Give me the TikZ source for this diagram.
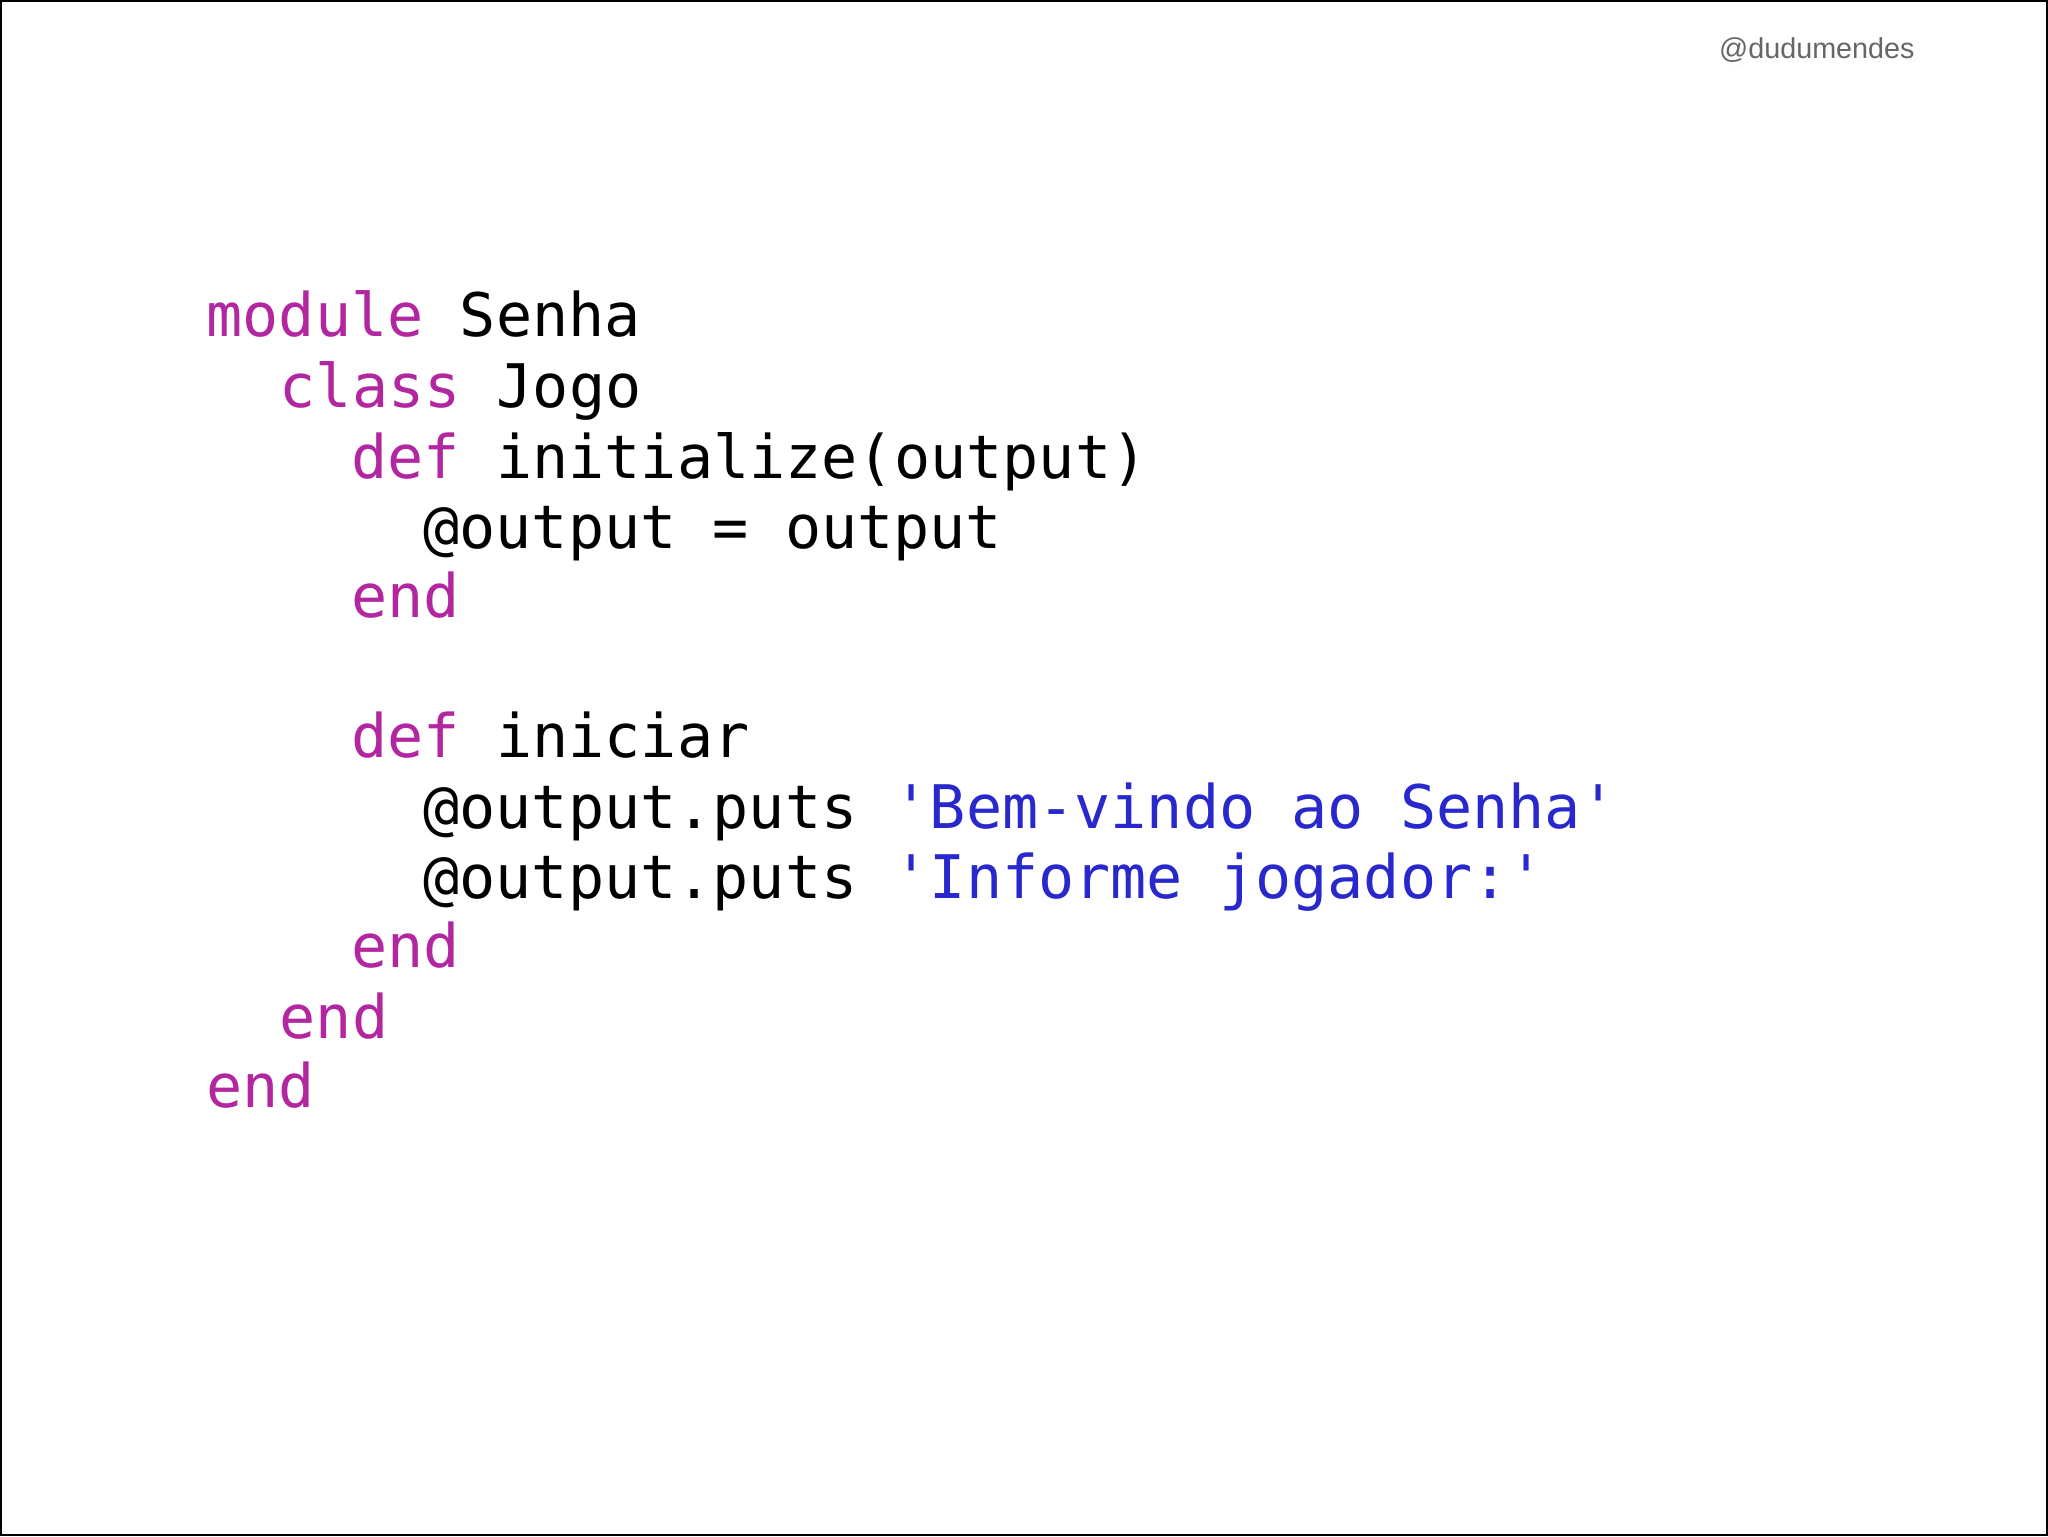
\documentclass[tikz,border=0pt]{standalone}
\usepackage{fontspec}
\setmonofont{DejaVu Sans Mono}
\setsansfont{Liberation Sans}
\definecolor{kw}{RGB}{178,38,160}
\definecolor{st}{RGB}{40,40,205}
\newcommand{\K}[1]{\textcolor{kw}{#1}}
\newcommand{\Sx}[1]{\textcolor{st}{#1}}
\tikzset{code/.style={anchor=base west,inner sep=0pt,font=\ttfamily\fontsize{46}{46}\selectfont}}
\begin{document}
\begin{tikzpicture}[x=1pt,y=-1pt]
\useasboundingbox (0,0) rectangle (1568,1176);
\draw[line width=1.5pt] (0.75,0.75) rectangle (1567.25,1175.25);
\node[anchor=base east,inner sep=0pt,font=\sffamily\fontsize{22}{22}\selectfont,text=black!3,opacity=0.5] (shadow) at (1469,48) {@dudumendes};
\node[anchor=base east,inner sep=0pt,font=\sffamily\fontsize{22}{22}\selectfont,text=black!60] (handle) at (1466,45) {@dudumendes};
\node[code] (l1) at (158,258) {\K{module} Senha};
\node[code] (l2) at (214,312) {\K{class} Jogo};
\node[code] (l3) at (269,366) {\K{def} initialize(output)};
\node[code] (l4) at (324,420) {@output = output};
\node[code] (l5) at (269,473) {\K{end}};
\node[code] (l6) at (269,580) {\K{def} iniciar};
\node[code] (l7) at (324,634) {@output.puts \Sx{'Bem-vindo ao Senha'}};
\node[code] (l8) at (324,688) {@output.puts \Sx{'Informe jogador:'}};
\node[code] (l9) at (269,741) {\K{end}};
\node[code] (l10) at (214,795) {\K{end}};
\node[code] (l11) at (158,848) {\K{end}};
\end{tikzpicture}
\end{document}
